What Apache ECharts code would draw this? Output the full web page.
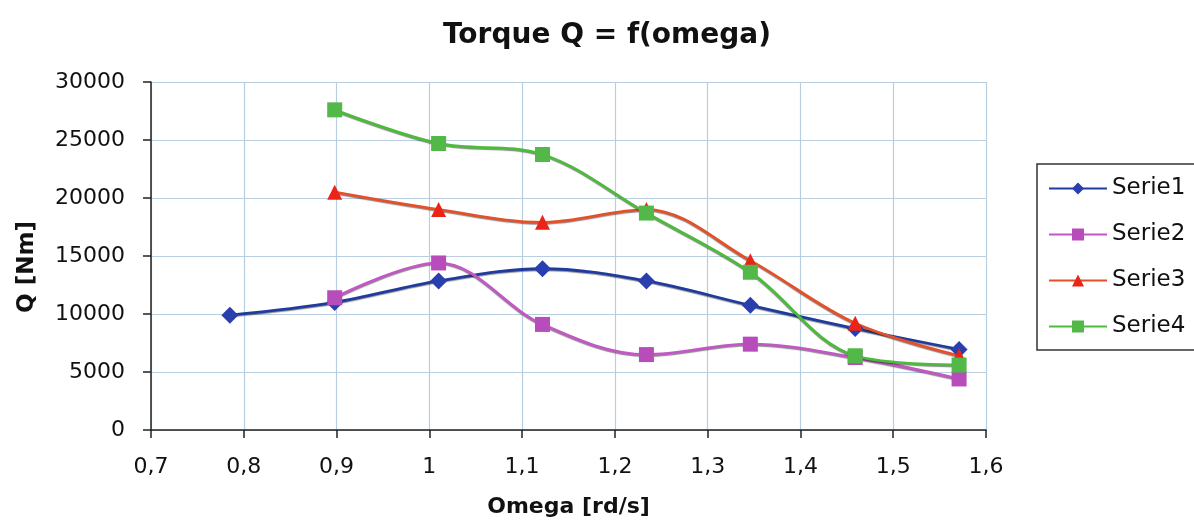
<!DOCTYPE html>
<html>
<head>
<meta charset="utf-8">
<script src="https://cdn.jsdelivr.net/npm/echarts@6/dist/echarts.min.js"></script>
<style>html,body{margin:0;padding:0;background:#fff;}#c{width:1194px;height:520px;}</style>
</head>
<body>
<div id="c"></div>
<script>
var omega = [0.785, 0.898, 1.01, 1.122, 1.234, 1.346, 1.459, 1.571];
var serie1 = [9900, 11000, 12850, 13900, 12850, 10750, 8750, 6950];
var serie2 = [null, 11400, 14400, 9100, 6500, 7400, 6250, 4400];
var serie3 = [null, 20500, 19000, 17900, 19000, 14600, 9200, 6400];
var serie4 = [null, 27600, 24700, 23750, 18700, 13600, 6400, 5600];
var seriesNames = ['Serie1', 'Serie2', 'Serie3', 'Serie4'];

function pairs(ys){
  var out = [];
  for (var i = 0; i < omega.length; i++) { if (ys[i] !== null) out.push([omega[i], ys[i]]); }
  return out;
}
var font = '"DejaVu Sans", Verdana, sans-serif';
function mk(name, ys, lineColor, markColor, symbol, size){
  return {
    name: name, type: 'line', data: pairs(ys), smooth: 0.35,
    symbol: symbol, symbolSize: size,
    lineStyle: {color: lineColor, width: 2.8, shadowColor: 'rgba(0,0,0,0.45)', shadowBlur: 1, shadowOffsetY: 1},
    itemStyle: {color: markColor},
    emphasis: {disabled: true}
  };
}
var chart = echarts.init(document.getElementById('c'));
chart.setOption({
  animation: false,
  backgroundColor: '#fff',
  title: {
    text: 'Torque Q = f(omega)', left: 602, top: 17, textAlign: 'center',
    textStyle: {fontFamily: font, fontSize: 28, fontWeight: 'bold', color: '#111'}
  },
  grid: {left: 151, right: 208, top: 82, bottom: 90, outerBoundsMode: 'none', containLabel: false},
  legend: {
    orient: 'vertical', left: 1037, top: 164,
    data: seriesNames,
    itemWidth: 58, itemHeight: 15, itemGap: 23,
    padding: [13, 40, 12, 11],
    borderColor: '#333', borderWidth: 1.5,
    textStyle: {fontFamily: font, fontSize: 23, color: '#111'}
  },
  xAxis: {
    type: 'value', min: 0.7, max: 1.6, interval: 0.1,
    name: 'Omega [rd/s]', nameLocation: 'middle', nameGap: 66,
    nameTextStyle: {fontFamily: font, fontSize: 22, fontWeight: 'bold', color: '#111'},
    axisLine: {lineStyle: {color: '#222', width: 1.5}},
    axisTick: {show: true, length: 8, lineStyle: {color: '#222', width: 1.5}},
    axisLabel: {
      fontFamily: font, fontSize: 22, color: '#111', margin: 26,
      formatter: function(v){ return String(+v.toFixed(1)).replace('.', ','); }
    },
    splitLine: {show: true, lineStyle: {color: '#b9cfe0', width: 1.2}}
  },
  yAxis: {
    type: 'value', min: 0, max: 30000, interval: 5000,
    name: 'Q [Nm]', nameLocation: 'middle', nameGap: 112, nameRotate: 90,
    nameTextStyle: {fontFamily: font, fontSize: 23, fontWeight: 'bold', color: '#111', padding: [0, 22, 0, 0]},
    axisLine: {show: true, lineStyle: {color: '#222', width: 1.5}},
    axisTick: {show: true, length: 8, lineStyle: {color: '#222', width: 1.5}},
    axisLabel: {fontFamily: font, fontSize: 22, color: '#111', margin: 26,
      formatter: function(v){ return String(v); }},
    splitLine: {show: true, lineStyle: {color: '#b9cfe0', width: 1.2}}
  },
  series: [
    mk('Serie1', serie1, '#1f3b9e', '#2a3fae', 'diamond', 17),
    mk('Serie2', serie2, '#c258c4', '#b84cba', 'rect', 15),
    mk('Serie3', serie3, '#e4502a', '#ec2418', 'triangle', 15),
    mk('Serie4', serie4, '#4cbb3c', '#52b848', 'rect', 15)
  ]
});
</script>
</body>
</html>
